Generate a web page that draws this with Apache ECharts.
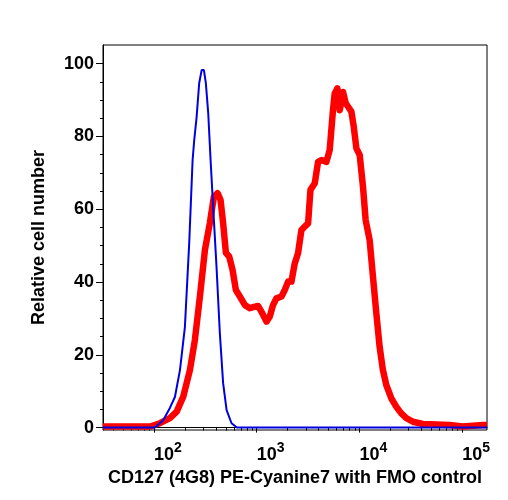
<!DOCTYPE html>
<html>
<head>
<meta charset="utf-8">
<script src="https://cdn.jsdelivr.net/npm/echarts@6/dist/echarts.min.js"></script>
<style>
    html, body { margin: 0; padding: 0; background: #fff; }
    #chart { width: 508px; height: 500px; }
</style>
</head>
<body>
<div id="chart"></div>
<script>
// x values are log10 of fluorescence intensity
var fmoLog = [1.504, 1.961, 2.010, 2.090, 2.155, 2.204, 2.253, 2.301, 2.343, 2.376, 2.392, 2.415, 2.440, 2.464,
    2.486, 2.505, 2.528, 2.551, 2.576, 2.609, 2.641, 2.673, 2.707, 2.755, 2.807, 5.241];
var fmoCount = [0, 0, 0, 2, 5.4, 8.4, 15.8, 27.6, 50.7, 73.5, 79, 85.3, 94.6, 98.2,
    98.2, 94.6, 86.4, 73.5, 60.6, 44, 26, 12.2, 4.8, 1.2, 0, 0];

var stainLog = [1.504, 1.961, 2.058, 2.155, 2.221, 2.285, 2.350, 2.398, 2.447, 2.496, 2.544, 2.583, 2.619, 2.648,
    2.673, 2.700, 2.732, 2.765, 2.797, 2.836, 2.884, 2.933, 2.982, 3.014, 3.047, 3.095, 3.127, 3.159,
    3.192, 3.241, 3.273, 3.305, 3.338, 3.370, 3.402, 3.435, 3.467, 3.500, 3.523, 3.565, 3.597, 3.630,
    3.678, 3.710, 3.742, 3.759, 3.785, 3.808, 3.840, 3.866, 3.888, 3.921, 3.944, 3.970, 4.002, 4.034,
    4.060, 4.099, 4.131, 4.164, 4.196, 4.228, 4.261, 4.310, 4.359, 4.407, 4.456, 4.520, 4.617, 4.877,
    5.006, 5.200, 5.241];
var stainCount = [0.3, 0.3, 1.2, 2.6, 4.4, 8.5, 15.8, 24, 36, 48.8, 56.2, 63.4, 64.4, 62.5,
    56.2, 48, 47, 43.3, 37.8, 36, 33.7, 32.8, 33.2, 33.4, 31.8, 29.1, 30.5, 33.7,
    35.5, 36, 37.8, 40.1, 40.1, 45.1, 47.9, 54.3, 55.2, 56.1, 65.3, 67.1, 73, 73.5,
    73, 76.2, 87.2, 91.8, 93.2, 87.2, 92.2, 89.1, 88.2, 86.8, 82.7, 76.7, 74.9, 66.2,
    57, 51.5, 41.5, 31.4, 22.2, 15.8, 11.7, 8, 5.7, 3.9, 2.6, 1.6, 1.0, 0.7,
    0.3, 0.7, 0.7];

var decadeTicks = [2, 3, 4, 5];
var yTicks = [0, 20, 40, 60, 80, 100];
var yMinorTicks = [5, 10, 15, 25, 30, 35, 45, 50, 55, 65, 70, 75, 85, 90, 95];

var xMin = 1.504, xMax = 5.241;

// minor log ticks (2..9 x 10^n) inside the range
var xMinorTicks = [];
for (var n = 1; n <= 5; n++) {
    for (var k = 2; k <= 9; k++) {
        var v = n + Math.log10(k);
        if (v > xMin && v < xMax) xMinorTicks.push(v);
    }
}

function pairs(xs, ys) {
    var out = [];
    for (var i = 0; i < xs.length; i++) out.push([xs[i], ys[i]]);
    return out;
}

var font = '"Liberation Sans", Arial, sans-serif';

var chart = echarts.init(document.getElementById('chart'));

var option = {
    animation: false,
    backgroundColor: '#fff',
    grid: {
        left: 103, right: 21, top: 45, bottom: 70,
        show: true, borderColor: '#000', borderWidth: 1
    },
    xAxis: [
        {
            type: 'value', min: xMin, max: xMax, position: 'bottom',
            name: 'CD127 (4G8) PE-Cyanine7 with FMO control',
            nameLocation: 'middle', nameGap: 32,
            nameTextStyle: { fontFamily: font, fontWeight: 'bold', fontSize: 18, color: '#000' },
            axisLine: { lineStyle: { color: '#000', width: 1 } },
            axisTick: { customValues: decadeTicks, length: 5, lineStyle: { color: '#000' } },
            splitLine: { show: false },
            axisLabel: {
                customValues: decadeTicks,
                align: 'left',
                margin: 8,
                formatter: function (v) { return '{b|10}{s|' + Math.round(v) + '}'; },
                rich: {
                    b: { fontFamily: font, fontWeight: 'bold', fontSize: 18, color: '#000', padding: [8, 0, 0, 0] },
                    s: { fontFamily: font, fontWeight: 'bold', fontSize: 14, color: '#000', padding: [0, 0, 6, 0] }
                }
            }
        },
        {
            type: 'value', min: xMin, max: xMax, position: 'bottom',
            axisLine: { show: false },
            axisTick: { customValues: xMinorTicks, length: 3, lineStyle: { color: '#000' } },
            axisLabel: { show: false },
            splitLine: { show: false }
        }
    ],
    yAxis: [
        {
            type: 'value', min: -0.66, max: 105.1, position: 'left',
            name: 'Relative cell number',
            nameLocation: 'middle', nameGap: 55, nameRotate: 90,
            nameTextStyle: { fontFamily: font, fontWeight: 'bold', fontSize: 18, color: '#000' },
            axisLine: { show: true, lineStyle: { color: '#000', width: 1 } },
            axisTick: { show: true, customValues: yTicks, length: 7, lineStyle: { color: '#000' } },
            splitLine: { show: false },
            axisLabel: {
                customValues: yTicks,
                margin: 9,
                fontFamily: font, fontWeight: 'bold', fontSize: 18, color: '#000'
            }
        },
        {
            type: 'value', min: -0.66, max: 105.1, position: 'left',
            axisLine: { show: false },
            axisTick: { show: true, customValues: yMinorTicks, length: 3, lineStyle: { color: '#000' } },
            axisLabel: { show: false },
            splitLine: { show: false }
        }
    ],
    series: [
        {
            name: 'stained',
            type: 'line',
            data: pairs(stainLog, stainCount),
            showSymbol: false,
            clip: true,
            lineStyle: { color: '#ff0000', width: 6.5, join: 'round' },
            z: 2
        },
        {
            name: 'FMO',
            type: 'line',
            data: pairs(fmoLog, fmoCount),
            showSymbol: false,
            clip: true,
            lineStyle: { color: '#0000e0', width: 2 },
            z: 3
        }
    ]
};

chart.setOption(option);
</script>
</body>
</html>
